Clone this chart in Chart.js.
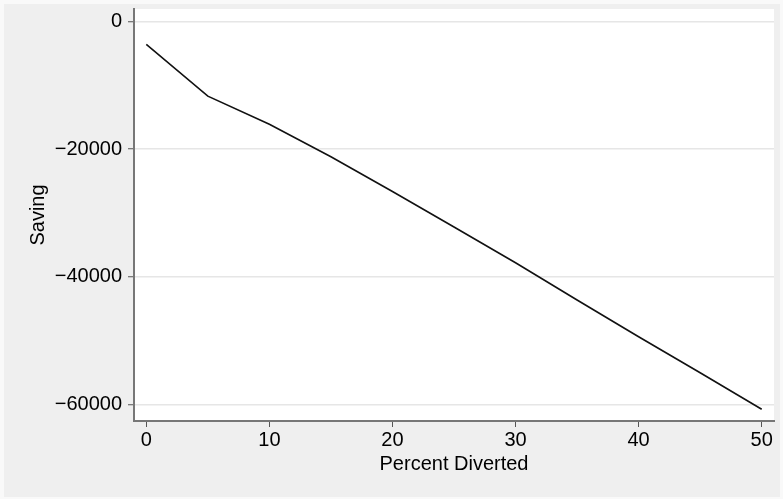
<!DOCTYPE html>
<html>
<head>
<meta charset="utf-8">
<script src="https://cdn.jsdelivr.net/npm/chart.js@4/dist/chart.umd.min.js"></script>
<style>
  html, body { margin: 0; padding: 0; background: #f9f9f9; }
  #wrap { width: 783px; height: 499px; position: relative; }
</style>
</head>
<body>
<div id="wrap"><canvas id="c" width="783" height="499"></canvas></div>
<script>
const percentDiverted = [0, 5, 10, 15, 20, 25, 30, 35, 40, 45, 50];
const savingValues = [-3600, -11700, -16100, -21200, -26650, -32200, -37800, -43650, -49400, -55050, -60750];
const xTickValues = [0, 10, 20, 30, 40, 50];
const yTickValues = [-60000, -40000, -20000, 0];
const xAxisTitle = 'Percent Diverted';
const yAxisTitle = 'Saving';

const FONT = 'Liberation Sans, Arial, Helvetica, sans-serif';

const bgPlugin = {
  id: 'bg',
  beforeDraw(chart) {
    const { ctx, chartArea: a } = chart;
    ctx.save();
    ctx.fillStyle = '#f9f9f9';
    ctx.fillRect(0, 0, chart.width, chart.height);
    ctx.fillStyle = '#efefef';
    ctx.fillRect(4, 4, chart.width - 7, chart.height - 6);
    ctx.fillStyle = '#ffffff';
    ctx.fillRect(a.left, a.top, a.right - a.left, a.bottom - a.top);
    ctx.restore();
  }
};

new Chart(document.getElementById('c'), {
  type: 'line',
  data: {
    datasets: [{
      data: percentDiverted.map((x, i) => ({ x: x, y: savingValues[i] })),
      borderColor: '#111',
      borderWidth: 1.6,
      pointRadius: 0,
      tension: 0,
      fill: false
    }]
  },
  options: {
    responsive: false,
    animation: false,
    devicePixelRatio: 1,
    layout: { padding: { top: 9, right: 9, bottom: 0, left: 0 } },
    plugins: { legend: { display: false }, tooltip: { enabled: false } },
    scales: {
      x: {
        type: 'linear',
        min: -1,
        max: 51,
        afterBuildTicks: (s) => { s.ticks = xTickValues.map(v => ({ value: v })); },
        afterFit: (s) => { s.height = 78; s.paddingLeft = 0; s.paddingRight = 0; },
        border: { color: '#777', width: 2 },
        grid: { drawOnChartArea: false, drawTicks: true, tickLength: 6, tickColor: '#555', tickWidth: 1 },
        ticks: { color: '#000', font: { family: FONT, size: 20 }, padding: 1, maxRotation: 0, autoSkip: false },
        title: { display: true, text: xAxisTitle, color: '#000', font: { family: FONT, size: 20 }, padding: { top: 0, bottom: 23 } }
      },
      y: {
        type: 'linear',
        min: -62600,
        max: 1950,
        afterBuildTicks: (s) => { s.ticks = yTickValues.map(v => ({ value: v })); },
        afterFit: (s) => { s.width = 134; s.paddingTop = 0; s.paddingBottom = 0; },
        border: { color: '#777', width: 2 },
        grid: { drawOnChartArea: true, color: '#e6e6e6', lineWidth: 1.5, drawTicks: true, tickLength: 6, tickColor: '#555', tickWidth: 1 },
        ticks: {
          color: '#000', font: { family: FONT, size: 20 }, padding: 6, autoSkip: false,
          callback: (v) => String(v).replace('-', '\u2212')
        },
        title: { display: true, text: yAxisTitle, color: '#000', font: { family: FONT, size: 20 }, padding: { top: 26, bottom: 0 } }
      }
    }
  },
  plugins: [bgPlugin]
});
</script>
</body>
</html>
